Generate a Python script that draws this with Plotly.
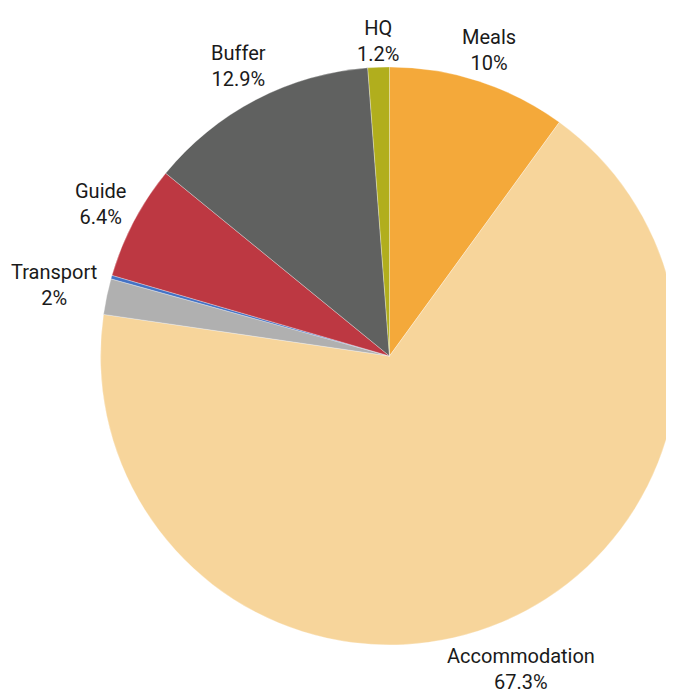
import math
import plotly.graph_objects as go

labels = ["Meals", "Accommodation", "Transport", "Other", "Guide", "Buffer", "HQ"]
values = [10.0, 67.3, 2.0, 0.2, 6.4, 12.9, 1.2]
pct_text = ["10%", "67.3%", "2%", "", "6.4%", "12.9%", "1.2%"]
colors = ["#F4A93A", "#F7D59B", "#B0B0B0", "#4472C4", "#BD3842", "#606160", "#B1AE1D"]

W, H = 674, 695
PAGE_OFFSET = 8  # default browser body margin shifts the figure

# pie geometry (visible-page pixels)
cx_s, cy_s, r = 389.5, 356.0, 289.0
cx, cy = cx_s - PAGE_OFFSET, cy_s - PAGE_OFFSET
dom_x = [(cx - r) / W, (cx + r) / W]
dom_y = [1 - (cy + r) / H, 1 - (cy - r) / H]

FONT_SIZE = 20
CHAR_W = 10.6
BOX_H = 45
GAP = 3

fig = go.Figure(go.Pie(
    labels=labels,
    values=values,
    textinfo="none",
    sort=False,
    direction="clockwise",
    rotation=0,
    marker=dict(colors=colors, line=dict(color="rgba(255,255,255,0.6)", width=0.5)),
    showlegend=False,
    domain=dict(x=dom_x, y=dom_y),
    hoverinfo="label+percent",
))

total = sum(values)
cum = 0.0
annotations = []
for lab, val, pct in zip(labels, values, pct_text):
    mid = (cum + val / 2) / total * 2 * math.pi
    cum += val
    if not pct:
        continue
    w = max(len(lab), len(pct)) * CHAR_W
    sx, sy = math.sin(mid), -math.cos(mid)
    extent = abs(sx) * w / 2 + abs(sy) * BOX_H / 2
    dist = r + GAP + extent
    px = cx + dist * sx
    py = cy + dist * sy
    annotations.append(dict(
        x=px / W, y=1 - py / H, xref="paper", yref="paper",
        text=f"{lab}<br>{pct}", showarrow=False,
        xanchor="center", yanchor="middle", align="center",
        font=dict(family="Roboto", size=FONT_SIZE, color="#1a1a1a"),
    ))

fig.update_layout(
    width=W, height=H,
    margin=dict(l=0, r=0, t=0, b=0),
    paper_bgcolor="white",
    plot_bgcolor="white",
    annotations=annotations,
)

fig.write_html("out.html")
